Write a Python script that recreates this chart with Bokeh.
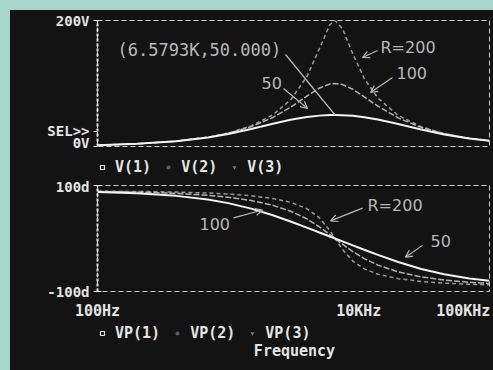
from bokeh.plotting import figure
from bokeh.layouts import column
from bokeh.models import (Label, Arrow, OpenHead, Range1d, ColumnDataSource, Legend,
                          LegendItem, GlobalInlineStyleSheet)
from bokeh.embed import file_html
from bokeh.resources import INLINE

# ---------------- data ----------------
freq = [100, 200, 400, 700, 1000, 1500, 2200, 3000, 4000, 5000, 6000, 6579.3,
        7500, 9000, 11000, 14000, 20000, 30000, 45000, 70000, 100000]
v1 = [2.10, 4.19, 8.31, 14.25, 19.75, 27.67, 36.04, 42.33, 46.81, 49.01, 49.89, 50.00,
      49.78, 48.72, 46.60, 42.87, 35.69, 26.85, 19.08, 12.67, 8.98]
v2 = [2.10, 4.19, 8.39, 14.68, 20.98, 31.48, 46.09, 62.19, 79.93, 92.75, 99.12, 100.0,
      98.23, 90.79, 78.91, 63.96, 45.35, 30.29, 20.18, 12.97, 9.08]
v3 = [2.10, 4.20, 8.41, 14.80, 21.34, 32.72, 50.27, 73.80, 110.75, 155.70, 193.20, 200.0,
      186.90, 146.93, 108.08, 76.82, 49.31, 31.38, 20.50, 13.05, 9.10]
vp1 = [87.59, 85.19, 80.43, 73.44, 66.74, 56.40, 43.88, 32.17, 20.57, 11.38, 3.82, 0.0,
       -5.43, -12.98, -21.24, -30.97, -44.45, -57.53, -67.57, -75.32, -79.65]
vp2 = [88.80, 87.60, 85.19, 81.56, 77.89, 71.65, 62.56, 51.55, 36.94, 21.96, 7.62, 0.0,
       -10.78, -24.79, -37.90, -50.24, -63.03, -72.37, -78.36, -82.55, -84.79]
vp3 = [89.40, 88.80, 87.59, 85.76, 83.88, 80.58, 75.44, 68.35, 56.37, 38.88, 14.99, 0.0,
       -20.85, -42.72, -57.29, -67.41, -75.73, -80.97, -84.12, -86.26, -87.39]

mag_names = ["V(1)", "V(2)", "V(3)"]
ph_names = ["VP(1)", "VP(2)", "VP(3)"]
mag_ticks = [0, 24, 200]
mag_tick_labels = {0: "0V", 24: "SEL>>", 200: "200V"}
ph_ticks = [-100, 100]
ph_tick_labels = {-100: "-100d", 100: "100d"}
f_ticks = [100, 10000, 63000]
f_tick_labels = {100: "100Hz", 10000: "10KHz", 63000: "100KHz"}
x_title = "Frequency"
peak_text = "(6.5793K,50.000)"
peak_point = (6579.3, 50.0)

# ---------------- styling ----------------
PAGE = "#a7d4cb"
BG = "#131313"
FG = "#e4e4e4"
ANN = "#b8b8b8"
MONO = "DejaVu Sans Mono"
SANS = "DejaVu Sans"
W = 483

css = GlobalInlineStyleSheet(css=(
    f"html{{background:{PAGE};margin:0;padding:0;overflow:hidden;}}"
    f"body{{margin:10px 0 0 10px;padding:0;background:{BG};overflow:hidden;}}"))

# helpers converting reference-picture pixel positions into data units (annotations only)
def fx(px):
    return 100 * 10 ** ((px - 97) * 3 / 392)

def vy(py):
    return (146 - py) * 200 / 126

def dy(py):
    return 100 - (py - 185) * 200 / 108

src = ColumnDataSource(dict(freq=freq, v1=v1, v2=v2, v3=v3, vp1=vp1, vp2=vp2, vp3=vp3))
x_rng = Range1d(100, 100000)

def base_fig(height, y_range, top, bottom):
    p = figure(width=W, height=height, x_axis_type="log", x_range=x_rng,
               y_range=y_range, output_backend="svg", toolbar_location=None,
               min_border_left=87, min_border_right=4, min_border_top=top,
               min_border_bottom=bottom, background_fill_color=BG,
               border_fill_color=BG, stylesheets=[css])
    p.grid.visible = False
    return p

def style_plot(p):
    p.outline_line_color = "#cfcfcf"
    p.outline_line_dash = "5 3"
    p.outline_line_width = 1
    ax = p.yaxis[0]
    ax.axis_line_color = FG
    ax.axis_line_width = 2
    ax.axis_line_dash = "3 2"
    ax.major_tick_line_color = FG
    ax.major_tick_out = 4
    ax.major_tick_in = 0
    ax.minor_tick_line_color = None
    ax.major_label_text_font = MONO
    ax.major_label_text_font_style = "bold"
    ax.major_label_text_font_size = "14px"
    ax.major_label_text_color = FG
    ax.major_label_standoff = 4

def lbl(p, x, y, text, font=SANS, size="16px", color=ANN, align="left", bold=False):
    p.add_layout(Label(x=x, y=y, text=text, text_font=font, text_font_size=size,
                       text_color=color, text_align=align, text_baseline="middle",
                       text_font_style="bold" if bold else "normal"))

def arr(p, x0, y0, x1, y1):
    p.add_layout(Arrow(end=OpenHead(size=7, line_color=ANN, line_width=1.2),
                       x_start=x0, y_start=y0, x_end=x1, y_end=y1,
                       line_color=ANN, line_width=1.2))

def legend_fig(height, names, cols, bottom_px):
    p = base_fig(height, Range1d(0, height), 0, 0)
    p.axis.visible = False
    p.outline_line_color = None
    # hidden marker renderers of the series: only their legend samples are shown
    r1 = p.scatter("freq", cols[0], source=src, marker="square", size=6,
                   fill_color=None, line_color=FG, line_width=1.2, visible=False)
    r2 = p.scatter("freq", cols[1], source=src, marker="circle", size=4,
                   fill_color="#5e5e5e", line_color=None, visible=False)
    r3 = p.scatter("freq", cols[2], source=src, marker="inverted_triangle", size=6,
                   fill_color="#7a7a7a", line_color=None, visible=False)
    items = [LegendItem(label=n, renderers=[r]) for n, r in zip(names, [r1, r2, r3])]
    leg = Legend(items=items, orientation="horizontal", location=(0, bottom_px),
                 margin=0, padding=0, spacing=12, label_standoff=8,
                 glyph_width=10, glyph_height=16, label_height=16,
                 background_fill_alpha=0, border_line_color=None,
                 inactive_fill_alpha=0,
                 label_text_font=MONO, label_text_font_style="bold",
                 label_text_font_size="15px", label_text_color=FG)
    p.add_layout(leg, "center")
    return p

# ---------------- top: magnitude ----------------
top = base_fig(140, Range1d(0, 200), 10, 4)
style_plot(top)
top.xaxis.visible = False
top.yaxis.ticker = mag_ticks
top.yaxis.major_label_overrides = mag_tick_labels

top.line("freq", "v3", source=src, color="#9a9a9a", line_width=1.5, line_dash="4 3")
top.line("freq", "v2", source=src, color="#b2b2b2", line_width=1.5, line_dash="6 2")
top.line("freq", "v1", source=src, color="#f2f2f2", line_width=2)

lbl(top, fx(117), vy(49), peak_text, font=MONO, size="17px")
top.segment(x0=[fx(285)], y0=[vy(54)], x1=[peak_point[0]], y1=[peak_point[1]],
            line_color=ANN, line_width=1.2)
lbl(top, fx(380), vy(47), "R=200")
arr(top, fx(377), vy(50), fx(362), vy(57))
lbl(top, fx(396), vy(72), "100")
arr(top, fx(392), vy(77), fx(370), vy(92))
lbl(top, fx(261), vy(82), "50")
arr(top, fx(283), vy(88), fx(307), vy(108))

leg_top = legend_fig(28, mag_names, ["v1", "v2", "v3"], 2)

# ---------------- bottom: phase ----------------
bot = base_fig(144, Range1d(-100, 100), 7, 29)
style_plot(bot)
bot.yaxis.ticker = ph_ticks
bot.yaxis.major_label_overrides = ph_tick_labels
bot.yaxis.major_tick_in = 4
xa = bot.xaxis[0]
xa.ticker = f_ticks
xa.major_label_overrides = f_tick_labels
xa.axis_line_color = None
xa.major_tick_line_color = None
xa.major_tick_out = 0
xa.major_tick_in = 0
xa.minor_tick_line_color = None
xa.major_label_text_font = MONO
xa.major_label_text_font_style = "bold"
xa.major_label_text_font_size = "15px"
xa.major_label_text_color = FG
xa.major_label_standoff = 10

bot.line("freq", "vp3", source=src, color="#9a9a9a", line_width=1.5, line_dash="4 3")
bot.line("freq", "vp2", source=src, color="#b2b2b2", line_width=1.5, line_dash="6 2")
bot.line("freq", "vp1", source=src, color="#f2f2f2", line_width=2)

lbl(bot, fx(199), dy(224), "100")
arr(bot, fx(233), dy(218), fx(262), dy(210))
lbl(bot, fx(367), dy(205), "R=200")
arr(bot, fx(362), dy(208), fx(330), dy(221))
lbl(bot, fx(430), dy(242), "50")
arr(bot, fx(422), dy(246), fx(405), dy(258))

leg_bot = legend_fig(48, ph_names, ["vp1", "vp2", "vp3"], 28)
lbl(leg_bot, fx(294), 20, x_title, font=MONO, size="15px", color=FG,
    align="center", bold=True)

layout = column(top, leg_top, bot, leg_bot, spacing=0, stylesheets=[css])
p = layout

open("out.html", "w").write(file_html(p, INLINE))
